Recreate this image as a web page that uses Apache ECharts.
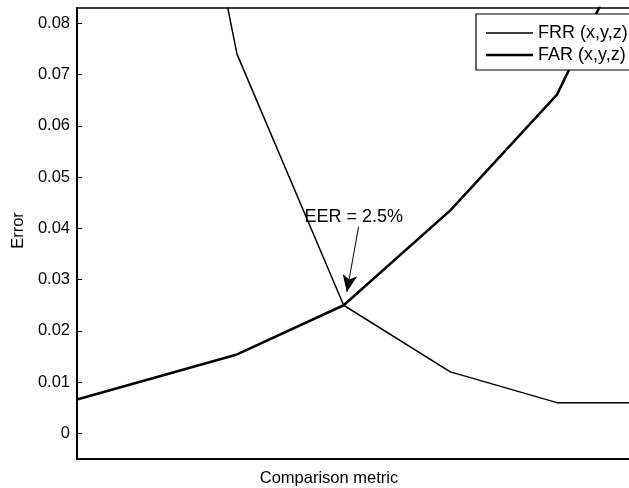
<!DOCTYPE html>
<html>
<head>
<meta charset="utf-8">
<script src="https://cdn.jsdelivr.net/npm/echarts@6/dist/echarts.min.js"></script>
<style>
  html, body { margin: 0; padding: 0; background: #fff; }
  #chart { width: 629px; height: 488px; }
</style>
</head>
<body>
<div id="chart"></div>
<script>
// Threshold positions along the comparison metric
const metric = [0, 1.5, 2.5, 3.5, 4.5, 5.5];
// False rejection rate per threshold
const frr = [0.23, 0.074, 0.025, 0.012, 0.006, 0.006];
// False acceptance rate per threshold
const far = [0.0066, 0.0154, 0.025, 0.0435, 0.0661, 0.109];
// Y axis tick values
const yTicks = [0, 0.01, 0.02, 0.03, 0.04, 0.05, 0.06, 0.07, 0.08];
// Equal error rate point and its annotation
const eer = [2.5, 0.025];
const eerLabel = 'EER = 2.5%';
const arrowFrom = [2.64, 0.0403];
const arrowTo = [2.53, 0.0276];
const labelAt = [2.595, 0.0423];

const FONT = 'Liberation Sans, Arial, Helvetica, sans-serif';

const chart = echarts.init(document.getElementById('chart'), null, { renderer: 'canvas' });

chart.setOption({
  animation: false,
  backgroundColor: '#fff',
  textStyle: { fontFamily: FONT, color: '#000' },
  grid: {
    left: 77, top: 8, width: 560, height: 451,
    containLabel: false,
    outerBoundsMode: 'none',
    show: true, borderColor: '#000', borderWidth: 1.5, backgroundColor: 'transparent'
  },
  legend: {
    orient: 'vertical',
    left: 476, top: 14,
    padding: [10, 30, 6, 10],
    itemGap: 4,
    itemWidth: 47,
    itemHeight: 14,
    backgroundColor: '#fff',
    borderColor: '#000',
    borderWidth: 1.2,
    borderRadius: 0,
    textStyle: { fontFamily: FONT, fontSize: 18, color: '#000' },
    data: [
      { name: 'FRR (x,y,z)', icon: 'path://M0,6.25 L47,6.25 L47,7.75 L0,7.75 Z' },
      { name: 'FAR (x,y,z)', icon: 'path://M0,5.75 L47,5.75 L47,8.25 L0,8.25 Z' }
    ]
  },
  xAxis: {
    type: 'value',
    min: 0, max: 5.25,
    name: 'Comparison metric',
    nameLocation: 'middle',
    nameGap: 11,
    nameTextStyle: { fontFamily: FONT, fontSize: 16.5, color: '#000', padding: [0, 56, 0, 0] },
    axisLine: { show: true, onZero: false, lineStyle: { color: '#000', width: 2 } },
    axisTick: { show: false },
    axisLabel: { show: false },
    splitLine: { show: false }
  },
  yAxis: {
    type: 'value',
    min: -0.005, max: 0.083,
    name: 'Error',
    nameLocation: 'middle',
    nameGap: 46,
    nameTextStyle: { fontFamily: FONT, fontSize: 16.5, color: '#000', padding: [0, 0, 0, 6] },
    axisLine: { show: true, onZero: false, lineStyle: { color: '#000', width: 2 } },
    axisTick: { show: true, inside: true, length: 5, customValues: yTicks, lineStyle: { color: '#000', width: 1 } },
    axisLabel: {
      customValues: yTicks,
      margin: 7,
      fontFamily: FONT, fontSize: 16.5, color: '#000',
      formatter: v => (v === 0 ? '0' : v.toFixed(2))
    },
    splitLine: { show: false }
  },
  series: [
    {
      name: 'FRR (x,y,z)',
      type: 'line',
      data: metric.map((x, i) => [x, frr[i]]),
      showSymbol: false,
      symbol: 'none',
      itemStyle: { color: '#000' },
      lineStyle: { color: '#000', width: 1.5 },
      clip: true
    },
    {
      name: 'FAR (x,y,z)',
      type: 'line',
      data: metric.map((x, i) => [x, far[i]]),
      showSymbol: false,
      symbol: 'none',
      itemStyle: { color: '#000' },
      lineStyle: { color: '#000', width: 2.5 },
      clip: true,
      markLine: {
        silent: true,
        animation: false,
        symbol: ['none', 'arrow'],
        symbolSize: [11, 17],
        lineStyle: { color: '#000', width: 1, type: 'solid' },
        label: { show: false },
        data: [[{ coord: arrowFrom }, { coord: arrowTo }]]
      },
      markPoint: {
        silent: true,
        symbol: 'circle',
        symbolSize: 0,
        label: {
          show: true, position: 'inside',
          fontFamily: FONT, fontSize: 18, color: '#000',
          formatter: eerLabel
        },
        data: [{ coord: labelAt, value: eer[1] }]
      }
    }
  ]
});
</script>
</body>
</html>
